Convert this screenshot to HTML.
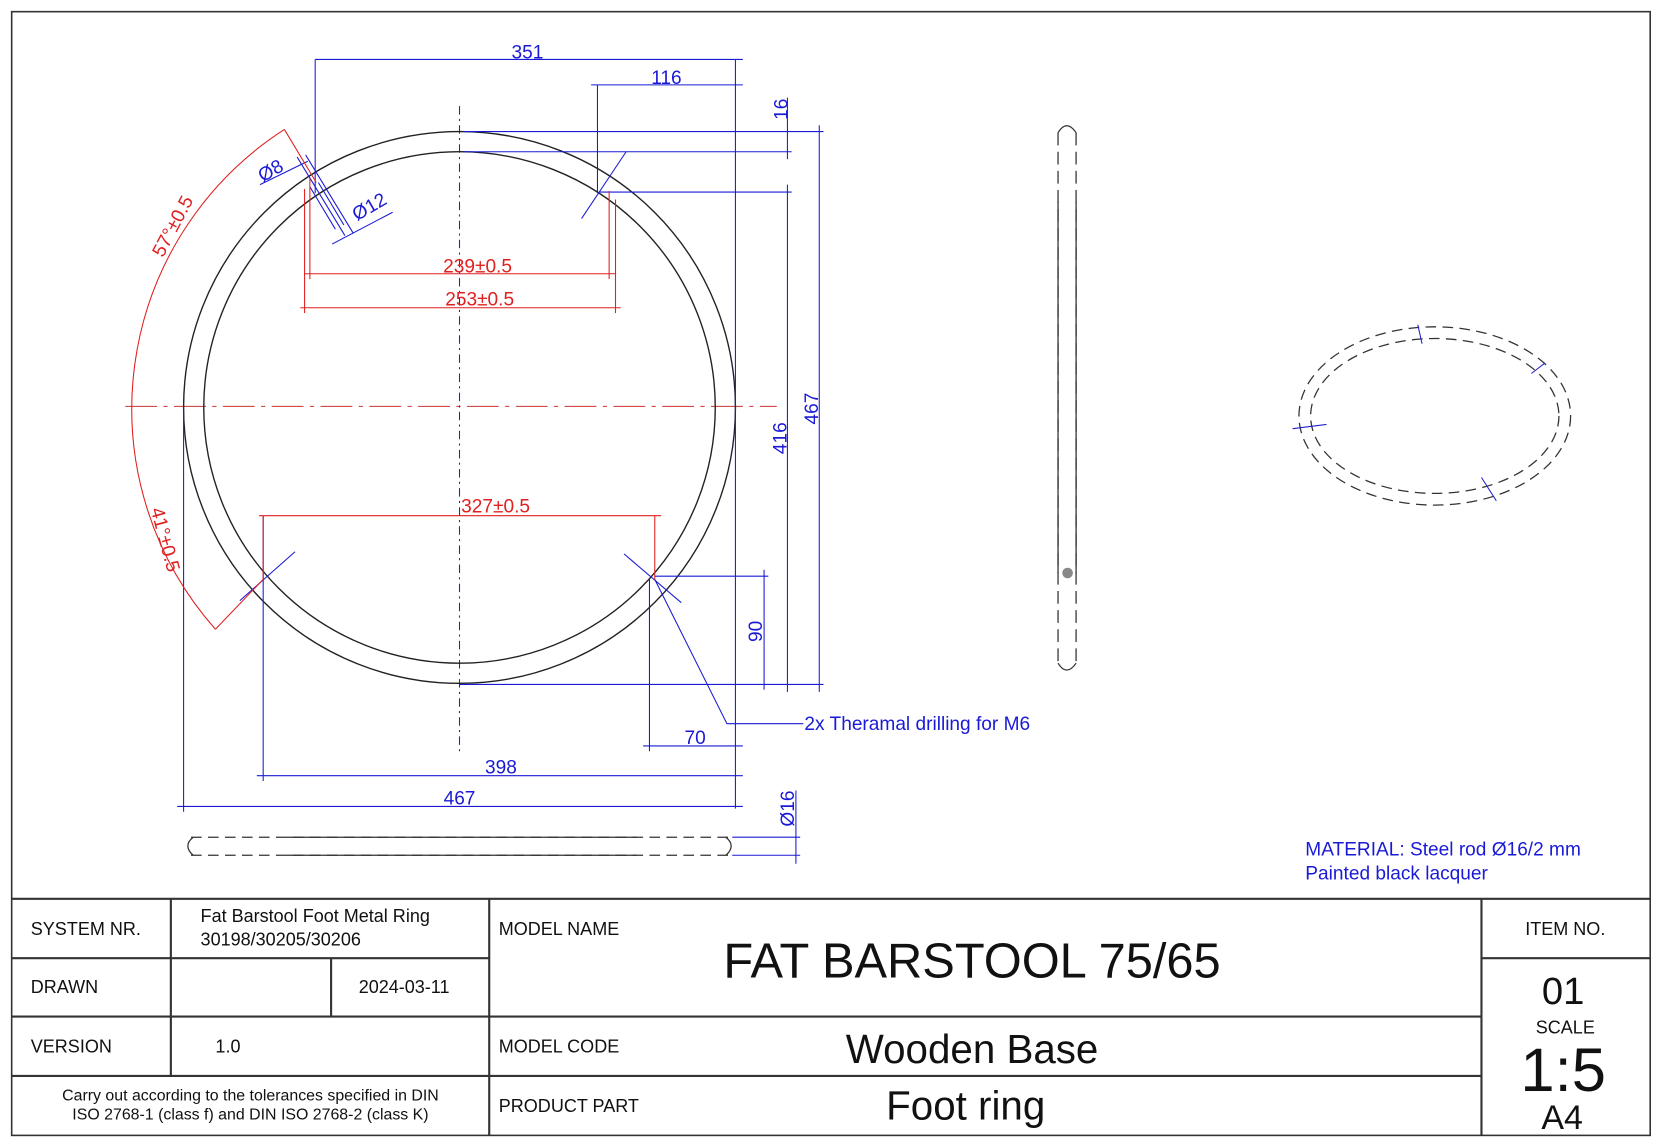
<!DOCTYPE html>
<html><head><meta charset="utf-8"><style>
html,body{margin:0;padding:0;background:#fff;}
svg{display:block;font-family:"Liberation Sans",Arial,sans-serif;}
</style></head><body>
<svg width="1664" height="1146" viewBox="0 0 1568 1080" preserveAspectRatio="none" xmlns="http://www.w3.org/2000/svg">
<rect x="0" y="0" width="1568" height="1080" fill="#fff"/>
<rect x="11" y="11" width="1544" height="1059" fill="none" stroke="#333" stroke-width="1.5"/>

<line x1="118" y1="383" x2="732" y2="383" stroke="#c33" stroke-width="1" stroke-dasharray="30,6,4,6"/>
<line x1="433" y1="100" x2="433" y2="708" stroke="#22c" stroke-width="1" stroke-dasharray="8,4,2,4"/>
<circle cx="433" cy="384" r="260" fill="none" stroke="#222" stroke-width="1.3"/>
<circle cx="433" cy="384" r="241" fill="none" stroke="#222" stroke-width="1.3"/>

<g stroke="#1a1ad6" stroke-width="1" fill="none">
<line x1="297" y1="56" x2="700" y2="56"/><line x1="297" y1="56" x2="297" y2="182"/>
<line x1="557" y1="80" x2="700" y2="80"/><line x1="563" y1="80" x2="563" y2="182"/>
<line x1="693" y1="56" x2="693" y2="762"/>
<line x1="437" y1="124" x2="776" y2="124"/>
<line x1="437" y1="143" x2="746" y2="143"/>
<line x1="565" y1="181" x2="746" y2="181"/>
<line x1="433" y1="645" x2="776" y2="645"/>
<line x1="742" y1="92" x2="742" y2="150"/>
<line x1="742" y1="174" x2="742" y2="652"/>
<line x1="772" y1="118" x2="772" y2="652"/>
<line x1="617" y1="543" x2="724" y2="543"/>
<line x1="720" y1="537" x2="720" y2="650"/>
<line x1="612" y1="546" x2="612" y2="708"/>
<line x1="606" y1="703" x2="700" y2="703"/>
<line x1="248" y1="486" x2="248" y2="736"/>
<line x1="242" y1="731" x2="700" y2="731"/>
<line x1="173" y1="383" x2="173" y2="765"/>
<line x1="167" y1="760" x2="700" y2="760"/>
<line x1="690" y1="789" x2="754" y2="789"/>
<line x1="690" y1="806" x2="754" y2="806"/>
<line x1="750" y1="745" x2="750" y2="814"/>
<polyline points="617,546 685,682 757,682"/>
<line x1="548" y1="206" x2="590" y2="143"/>
<line x1="588" y1="522" x2="642" y2="568"/>
<line x1="278" y1="520" x2="226" y2="566"/>
<line x1="280" y1="148" x2="325" y2="222"/>
<line x1="288" y1="146" x2="333" y2="220"/>
<line x1="292" y1="176" x2="316" y2="216"/>
<line x1="300" y1="172" x2="324" y2="212"/>
<line x1="245" y1="174" x2="290" y2="152"/>
<line x1="313" y1="230" x2="370" y2="200"/>
</g>
<g fill="#1a1ad6" font-size="18">
<text x="497" y="55" text-anchor="middle">351</text>
<text x="628" y="79" text-anchor="middle">116</text>
<text x="655" y="701" text-anchor="middle">70</text>
<text x="472" y="729" text-anchor="middle">398</text>
<text x="433" y="758" text-anchor="middle">467</text>
<text transform="translate(742,103) rotate(-90)" text-anchor="middle">16</text>
<text transform="translate(741,413) rotate(-90)" text-anchor="middle">416</text>
<text transform="translate(771,385) rotate(-90)" text-anchor="middle">467</text>
<text transform="translate(718,595) rotate(-90)" text-anchor="middle">90</text>
<text transform="translate(748,762) rotate(-90)" text-anchor="middle">Ø16</text>
<text transform="translate(258,166) rotate(-30)" text-anchor="middle">Ø8</text>
<text transform="translate(351,200) rotate(-30)" text-anchor="middle">Ø12</text>
<text x="758" y="688">2x Theramal drilling for M6</text>
<text x="1230" y="806">MATERIAL: Steel rod Ø16/2 mm</text>
<text x="1230" y="829">Painted black lacquer</text>
</g>

<g stroke="#e02020" stroke-width="1" fill="none">
<line x1="292" y1="168" x2="292" y2="263"/>
<line x1="574" y1="180" x2="574" y2="263"/>
<line x1="287" y1="178" x2="287" y2="295"/>
<line x1="580" y1="188" x2="580" y2="295"/>
<line x1="287" y1="258" x2="580" y2="258"/>
<line x1="283" y1="290" x2="585" y2="290"/>
<line x1="244" y1="486" x2="623" y2="486"/>
<line x1="248" y1="486" x2="248" y2="546"/>
<line x1="617" y1="486" x2="617" y2="546"/>
<path d="M 268 122 A 313 313 0 0 0 203 593"/>
<line x1="268" y1="122" x2="298" y2="172"/>
<line x1="203" y1="593" x2="248" y2="546"/>
</g>
<g fill="#e02020" font-size="18">
<text x="450" y="257" text-anchor="middle">239±0.5</text>
<text x="452" y="288" text-anchor="middle">253±0.5</text>
<text x="467" y="483" text-anchor="middle">327±0.5</text>
<text transform="translate(168,216) rotate(-62)" text-anchor="middle">57°±0.5</text>
<text transform="translate(150,510) rotate(75)" text-anchor="middle">41°±0.5</text>
</g>

<g stroke="#333" stroke-width="1.2" fill="none">
<line x1="180" y1="789" x2="690" y2="789" stroke-dasharray="10,6"/>
<line x1="180" y1="806" x2="690" y2="806" stroke-dasharray="10,6"/>
<line x1="270" y1="789" x2="600" y2="789"/>
<line x1="270" y1="806" x2="600" y2="806"/>
<path d="M182 789 Q172 797 182 806"/><path d="M684 789 Q694 797 684 806"/>
</g>
<g stroke="#333" stroke-width="1.2" fill="none">
<line x1="997" y1="125" x2="997" y2="625" stroke-dasharray="12,6"/>
<line x1="1014" y1="125" x2="1014" y2="625" stroke-dasharray="12,6"/>
<line x1="997" y1="190" x2="997" y2="540"/>
<line x1="1014" y1="190" x2="1014" y2="540"/>
<path d="M997 125 Q1005 112 1014 125"/><path d="M997 625 Q1005 638 1014 625"/>
</g>
<circle cx="1006" cy="540" r="5" fill="#888"/>
<g stroke="#333" stroke-width="1.2" fill="none" stroke-dasharray="10,6">
<ellipse cx="1352" cy="392" rx="128" ry="84"/>
<ellipse cx="1352" cy="392" rx="117" ry="73"/>
</g>
<g stroke="#22c" stroke-width="1">
<line x1="1336" y1="306" x2="1340" y2="324"/>
<line x1="1443" y1="352" x2="1456" y2="342"/>
<line x1="1218" y1="404" x2="1250" y2="400"/>
<line x1="1396" y1="450" x2="1410" y2="472"/>
</g>

<g stroke="#333" stroke-width="2" fill="none">
<line x1="11" y1="847" x2="1555" y2="847"/>
<line x1="11" y1="903" x2="461" y2="903"/>
<line x1="1396" y1="903" x2="1555" y2="903"/>
<line x1="11" y1="958" x2="1396" y2="958"/>
<line x1="11" y1="1014" x2="1396" y2="1014"/>
<line x1="161" y1="847" x2="161" y2="1014"/>
<line x1="312" y1="903" x2="312" y2="958"/>
<line x1="461" y1="847" x2="461" y2="1070"/>
<line x1="1396" y1="847" x2="1396" y2="1070"/>
</g>
<g fill="#111" font-size="17">
<text x="29" y="881">SYSTEM NR.</text>
<text x="189" y="869">Fat Barstool Foot Metal Ring</text>
<text x="189" y="891">30198/30205/30206</text>
<text x="29" y="936">DRAWN</text>
<text x="338" y="936">2024-03-11</text>
<text x="29" y="992">VERSION</text>
<text x="203" y="992">1.0</text>
<text x="236" y="1037" font-size="15" text-anchor="middle">Carry out according to the tolerances specified in DIN</text>
<text x="236" y="1055" font-size="15" text-anchor="middle">ISO 2768-1 (class f) and DIN ISO 2768-2 (class K)</text>
<text x="470" y="881">MODEL NAME</text>
<text x="470" y="992">MODEL CODE</text>
<text x="470" y="1048">PRODUCT PART</text>
<text x="916" y="921" font-size="46" text-anchor="middle">FAT BARSTOOL 75/65</text>
<text x="916" y="1002" font-size="38" text-anchor="middle">Wooden Base</text>
<text x="910" y="1055" font-size="38" text-anchor="middle">Foot ring</text>
<text x="1475" y="881" text-anchor="middle">ITEM NO.</text>
<text x="1473" y="946" font-size="36" text-anchor="middle">01</text>
<text x="1475" y="974" text-anchor="middle">SCALE</text>
<text x="1473" y="1028" font-size="58" text-anchor="middle">1:5</text>
<text x="1472" y="1064" font-size="32" text-anchor="middle">A4</text>
</g>
</svg>
</body></html>
